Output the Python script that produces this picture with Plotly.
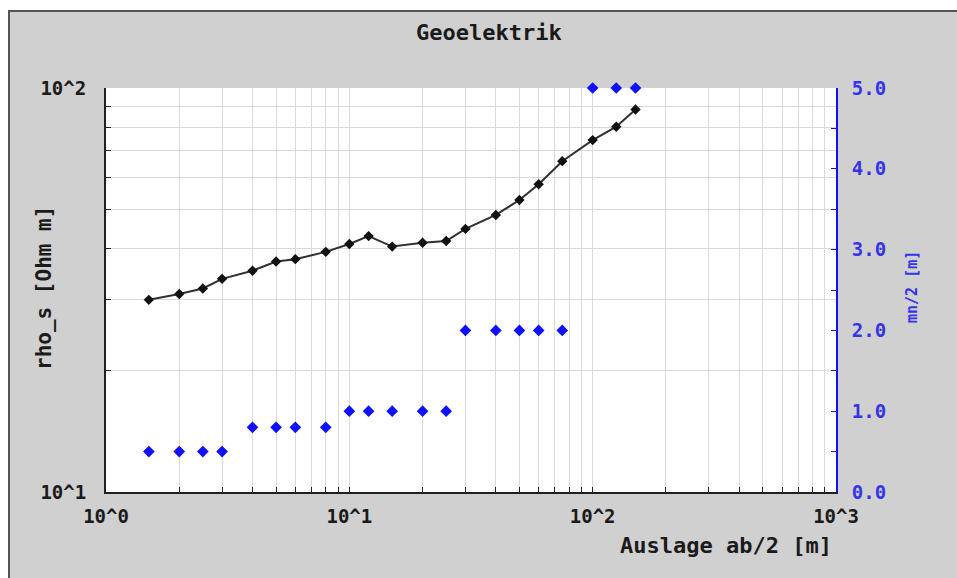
import plotly.graph_objects as go

# ---- data ----
ab2 = [1.5, 2, 2.5, 3, 4, 5, 6, 8, 10, 12, 15, 20, 25, 30, 40, 50, 60, 75, 100, 125, 150]
rho_s = [29.9, 30.9, 31.9, 33.7, 35.3, 37.2, 37.7, 39.3, 41.1, 43.0, 40.5, 41.4, 41.8,
         44.8, 48.5, 52.8, 57.8, 65.9, 74.3, 80.2, 88.5]
mn2 = [0.5, 0.5, 0.5, 0.5, 0.8, 0.8, 0.8, 0.8, 1, 1, 1, 1, 1, 2, 2, 2, 2, 2, 5, 5, 5]

x_ticks = [m * 10 ** d for d in range(0, 3) for m in range(1, 10)] + [1000]
x_text = [("10^%d" % d if m == 1 else "") for d in range(0, 3) for m in range(1, 10)] + ["10^3"]
y_ticks = [10, 20, 30, 40, 50, 60, 70, 80, 90, 100]
y_text = ["10^1", "", "", "", "", "", "", "", "", "10^2"]
y2_ticks = [0, 0.5, 1, 1.5, 2, 2.5, 3, 3.5, 4, 4.5, 5]
y2_text = ["0.0", "", "1.0", "", "2.0", "", "3.0", "", "4.0", "", "5.0"]

W, H = 957, 578
L, R, T, B = 106, 836, 88, 492  # pixel coordinates of plot area


def px(x):
    return (x - L) / (R - L)


def py(y):
    return (B - y) / (B - T)


MONO = "DejaVu Sans Mono"
BLUE = "#1010ff"
TXT = "#1a1a1a"

fig = go.Figure()
fig.add_trace(go.Scatter(
    x=ab2, y=mn2, yaxis="y2", mode="markers",
    marker=dict(symbol="diamond", size=9, color=BLUE),
    cliponaxis=False, showlegend=False))
fig.add_trace(go.Scatter(
    x=ab2, y=rho_s, mode="lines+markers",
    line=dict(color="#303030", width=2),
    marker=dict(symbol="diamond", size=8, color="#111111"),
    cliponaxis=False, showlegend=False))

tickfont = dict(size=19, family=MONO, color=TXT, weight="bold")

fig.update_layout(
    width=W, height=H,
    margin=dict(l=L, r=W - R, t=T, b=H - B, pad=0),
    paper_bgcolor="#d0d0d0",
    plot_bgcolor="white",
    font=dict(family=MONO, color=TXT),
    xaxis=dict(
        type="log", range=[0, 3], tickmode="array", tickvals=x_ticks, ticktext=x_text,
        ticks="inside", ticklen=5, tickcolor="#202020", tickwidth=1,
        showline=True, linecolor="#202020", linewidth=2,
        showgrid=True, gridcolor="#d9d9d9", gridwidth=1, zeroline=False,
        tickfont=tickfont,
        ticklabelstandoff=6,
    ),
    yaxis=dict(
        type="log", range=[1, 2], tickmode="array", tickvals=y_ticks, ticktext=y_text,
        ticks="inside", ticklen=5, tickcolor="#202020", tickwidth=1,
        showline=True, linecolor="#202020", linewidth=2,
        showgrid=True, gridcolor="#d9d9d9", gridwidth=1, zeroline=False,
        tickfont=tickfont,
        ticklabelstandoff=14,
    ),
    yaxis2=dict(
        overlaying="y", side="right", range=[0, 5], tickmode="array",
        tickvals=y2_ticks, ticktext=y2_text,
        ticks="inside", ticklen=5, tickcolor=BLUE, tickwidth=1,
        showline=True, linecolor=BLUE, linewidth=2,
        showgrid=False, zeroline=False,
        tickfont=dict(size=19, family=MONO, color="#3434ea", weight="bold"),
        ticklabelstandoff=10,
    ),
    shapes=[
        dict(type="rect", xref="paper", yref="paper", layer="below",
             x0=px(-5), x1=px(965), y0=py(-5), y1=py(10),
             fillcolor="white", line=dict(width=0)),
        dict(type="rect", xref="paper", yref="paper", layer="below",
             x0=px(-5), x1=px(8), y0=py(585), y1=py(-5),
             fillcolor="white", line=dict(width=0)),
        dict(type="rect", xref="paper", yref="paper", layer="below",
             x0=px(9), x1=px(975), y0=py(590), y1=py(11),
             fillcolor="rgba(0,0,0,0)", line=dict(color="#555555", width=2)),
    ],
    annotations=[
        dict(text="<b>Geoelektrik</b>", xref="paper", yref="paper",
             x=px(489), y=py(32), xanchor="center", yanchor="middle",
             showarrow=False, font=dict(size=22, family=MONO, color=TXT)),
        dict(text="<b>Auslage ab/2 [m]</b>", xref="paper", yref="paper",
             x=px(834), y=py(545), xanchor="right", yanchor="middle",
             showarrow=False, font=dict(size=22, family=MONO, color=TXT)),
        dict(text="<b>rho_s [Ohm m]</b>", xref="paper", yref="paper",
             x=px(44), y=py(288), xanchor="center", yanchor="middle", textangle=-90,
             showarrow=False, font=dict(size=21, family=MONO, color=TXT)),
        dict(text="<b>mn/2 [m]</b>", xref="paper", yref="paper",
             x=px(912), y=py(287), xanchor="center", yanchor="middle", textangle=-90,
             showarrow=False, font=dict(size=15, family=MONO, color="#3434ea")),
    ],
)

fig.write_html(
    "out.html",
    config={"displayModeBar": False},
    post_script="document.body.style.margin='0';document.body.style.overflow='hidden';",
)
